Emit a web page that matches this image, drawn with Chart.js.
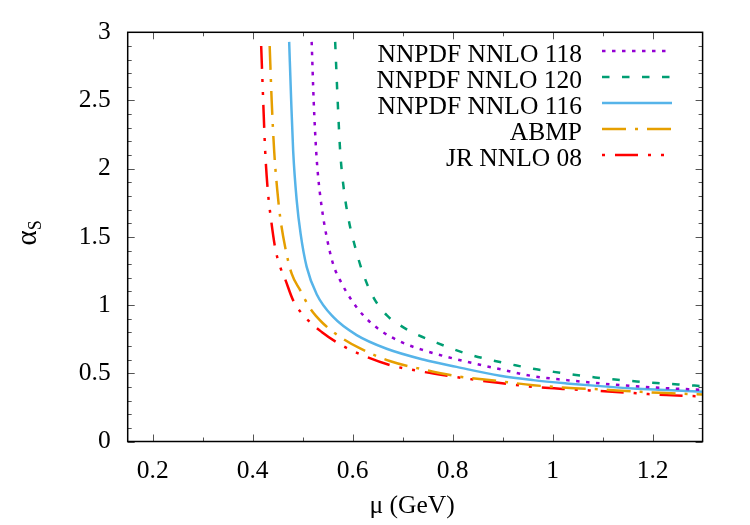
<!DOCTYPE html>
<html><head><meta charset="utf-8">
<script src="https://cdn.jsdelivr.net/npm/chart.js@4/dist/chart.umd.min.js"></script>
<style>html,body{margin:0;padding:0;background:#fff}</style>
</head><body>
<canvas id="c" width="750" height="525"></canvas>
<script>
// ---- data ----
const seriesLabels = ["NNPDF NNLO 118", "NNPDF NNLO 120", "NNPDF NNLO 116", "ABMP", "JR NNLO 08"];
const xTickValues = [0.2, 0.4, 0.6, 0.8, 1.0, 1.2];
const yTickValues = [0, 0.5, 1, 1.5, 2, 2.5, 3];

const mu118 = [0.518, 0.522, 0.527, 0.531, 0.538, 0.548, 0.561, 0.578, 0.598, 0.621, 0.655, 0.701, 0.741, 0.801, 0.901, 0.961, 1.028, 1.095, 1.161, 1.228, 1.30];
const as118 = [2.93, 2.50, 2.13, 1.94, 1.72, 1.50, 1.30, 1.16, 1.035, 0.926, 0.816, 0.723, 0.67, 0.609, 0.525, 0.479, 0.45, 0.426, 0.406, 0.391, 0.379];

const mu120 = [0.565, 0.570, 0.575, 0.581, 0.591, 0.605, 0.621, 0.641, 0.668, 0.695, 0.725, 0.761, 0.801, 0.838, 0.878, 0.915, 0.958, 1.001, 1.043, 1.085, 1.125, 1.168, 1.208, 1.251, 1.30];
const as120 = [2.93, 2.50, 2.13, 1.89, 1.645, 1.425, 1.23, 1.06, 0.926, 0.852, 0.79, 0.735, 0.677, 0.633, 0.596, 0.567, 0.535, 0.511, 0.489, 0.47, 0.455, 0.44, 0.428, 0.418, 0.406];

const mu116 = [0.473, 0.477, 0.481, 0.488, 0.496, 0.508, 0.528, 0.561, 0.608, 0.668, 0.741, 0.808, 0.895, 0.961, 1.028, 1.095, 1.161, 1.228, 1.30];
const as116 = [2.93, 2.50, 2.13, 1.77, 1.52, 1.28, 1.08, 0.913, 0.78, 0.68, 0.601, 0.547, 0.482, 0.45, 0.426, 0.406, 0.389, 0.377, 0.364];

const muABMP = [0.434, 0.438, 0.443, 0.449, 0.455, 0.465, 0.478, 0.495, 0.515, 0.541, 0.575, 0.615, 0.674, 0.741, 0.808, 0.891, 0.961, 1.028, 1.095, 1.161, 1.228, 1.30];
const asABMP = [2.90, 2.50, 2.13, 1.85, 1.645, 1.425, 1.23, 1.11, 0.975, 0.865, 0.767, 0.682, 0.59, 0.528, 0.479, 0.443, 0.413, 0.394, 0.382, 0.367, 0.355, 0.345];

const muJR = [0.417, 0.421, 0.425, 0.430, 0.437, 0.445, 0.455, 0.465, 0.481, 0.508, 0.538, 0.578, 0.628, 0.675, 0.741, 0.795, 0.891, 0.961, 1.028, 1.095, 1.161, 1.228, 1.30];
const asJR = [2.90, 2.50, 2.13, 1.85, 1.62, 1.42, 1.28, 1.19, 1.035, 0.90, 0.803, 0.706, 0.62, 0.56, 0.511, 0.479, 0.43, 0.401, 0.384, 0.37, 0.355, 0.34, 0.331];

// ---- build ----
const pts = (xs, ys) => xs.map((x, i) => ({x: x, y: ys[i]}));
const FONT = '"Liberation Serif", "DejaVu Serif", serif';
const FS = 25.5;

const styles = [
  {color: '#9400d3', dash: [3.5, 6.5], legOff: 0},
  {color: '#009e73', dash: [7.5, 12.5], legOff: 0},
  {color: '#56b4e9', dash: [], legOff: 0},
  {color: '#e69f00', dash: [24, 9, 3, 9], legOff: 0},
  {color: '#ff0000', dash: [23, 10, 3, 10, 3, 10], legOff: 46}
];
const seriesData = [pts(mu118, as118), pts(mu120, as120), pts(mu116, as116), pts(muABMP, asABMP), pts(muJR, asJR)];

const datasets = seriesLabels.map((lab, i) => ({
  label: lab,
  data: seriesData[i],
  showLine: true,
  borderColor: styles[i].color,
  backgroundColor: styles[i].color,
  borderDash: styles[i].dash,
  borderWidth: 2.5,
  pointRadius: 0,
  cubicInterpolationMode: 'monotone',
  fill: false
}));

const framePlugin = {
  id: 'frame',
  afterDatasetsDraw(chart) {
    const {ctx, chartArea: a, scales: {x, y}} = chart;
    ctx.save();
    // ticks (inward, mirrored)
    ctx.lineWidth = 1;
    ctx.strokeStyle = '#555';
    for (let k = 2; k <= 12; k++) {
      const v = k / 10;
      const px = Math.round(x.getPixelForValue(v)) + 0.5;
      const len = (k % 2 === 0) ? 7 : 4;
      ctx.beginPath();
      ctx.moveTo(px, a.bottom); ctx.lineTo(px, a.bottom - len);
      ctx.moveTo(px, a.top); ctx.lineTo(px, a.top + len);
      ctx.stroke();
    }
    for (let k = 0; k <= 30; k++) {
      const v = k / 10;
      const py = Math.round(y.getPixelForValue(v)) + 0.5;
      const len = (k % 5 === 0) ? 7 : 4;
      ctx.beginPath();
      ctx.moveTo(a.left, py); ctx.lineTo(a.left + len, py);
      ctx.moveTo(a.right, py); ctx.lineTo(a.right - len, py);
      ctx.stroke();
    }
    // border
    ctx.strokeStyle = '#000';
    ctx.lineWidth = 1.5;
    ctx.strokeRect(a.left, a.top, a.right - a.left, a.bottom - a.top);

    // legend
    ctx.font = FS + 'px ' + FONT;
    ctx.textAlign = 'right';
    ctx.textBaseline = 'alphabetic';
    chart.data.datasets.forEach((ds, i) => {
      const ly = 51 + i * 26;
      ctx.fillStyle = '#000';
      ctx.fillText(ds.label, 582, ly + 10.5);
      ctx.beginPath();
      ctx.setLineDash(ds.borderDash);
      ctx.lineDashOffset = styles[i].legOff;
      ctx.strokeStyle = ds.borderColor;
      ctx.lineWidth = ds.borderWidth;
      ctx.moveTo(602, ly); ctx.lineTo(672, ly);
      ctx.stroke();
    });
    ctx.setLineDash([]);
    ctx.lineDashOffset = 0;

    // axis titles
    ctx.fillStyle = '#000';
    ctx.textAlign = 'center';
    ctx.font = FS + 'px ' + FONT;
    ctx.fillText('\u03bc (GeV)', (a.left + a.right) / 2 - 3, 513);

    ctx.save();
    ctx.translate(36, (a.top + a.bottom) / 2 - 4);
    ctx.rotate(-Math.PI / 2);
    ctx.textAlign = 'left';
    ctx.font = '29px ' + FONT;
    const wA = ctx.measureText('\u03b1').width;
    ctx.font = '18px ' + FONT;
    const wS = ctx.measureText('S').width;
    const start = -(wA + wS) / 2;
    ctx.font = '29px ' + FONT;
    ctx.fillText('\u03b1', start, 0);
    ctx.font = '18px ' + FONT;
    ctx.fillText('S', start + wA, 5);
    ctx.restore();
    ctx.restore();
  }
};

new Chart(document.getElementById('c'), {
  type: 'scatter',
  data: {datasets},
  options: {
    responsive: false,
    animation: false,
    devicePixelRatio: 1,
    layout: {padding: {top: 31.5, right: 47.4, left: 0, bottom: 0}},
    plugins: {legend: {display: false}, tooltip: {enabled: false}, title: {display: false}},
    scales: {
      x: {
        type: 'linear', min: 0.15, max: 1.3,
        grid: {display: false, drawTicks: false},
        border: {display: false},
        afterFit(s) { s.height = 83.5; },
        afterBuildTicks(s) { s.ticks = xTickValues.map(v => ({value: v})); },
        ticks: {
          padding: 14, color: '#000', font: {family: FONT, size: FS},
          maxRotation: 0, autoSkip: false,
          callback: v => String(Math.round(v * 10) / 10)
        }
      },
      y: {
        type: 'linear', min: 0, max: 3,
        grid: {display: false, drawTicks: false},
        border: {display: false},
        afterFit(s) { s.width = 127.7; },
        afterBuildTicks(s) { s.ticks = yTickValues.map(v => ({value: v})); },
        ticks: {
          padding: 17, color: '#000', font: {family: FONT, size: FS},
          autoSkip: false,
          callback: v => String(v)
        }
      }
    }
  },
  plugins: [framePlugin]
});
</script>
</body></html>
